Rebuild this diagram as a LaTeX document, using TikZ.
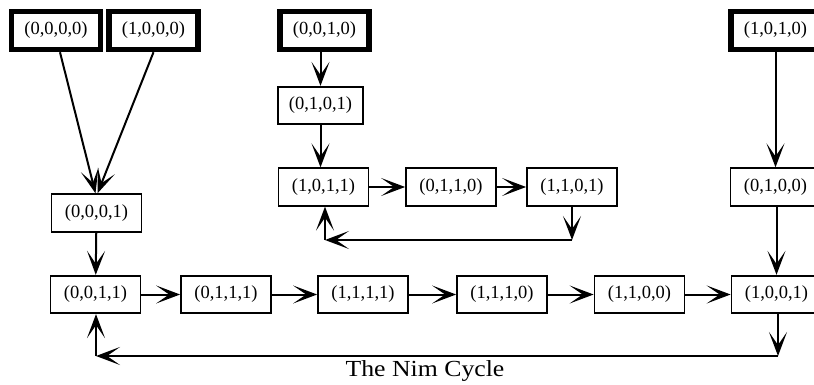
\documentclass[tikz,border=0pt]{standalone}
\usepackage{fontspec}
\setmainfont{Liberation Serif}
\newfontfamily\capfont[FakeStretch=1.12]{Liberation Serif}
\usetikzlibrary{arrows.meta}
\begin{document}
\begin{tikzpicture}[x=1pt,y=-1pt,
  st/.style={draw,line width=1.8pt,minimum width=90pt,minimum height=37.5pt,inner sep=0pt,
    font=\fontsize{18.5}{21}\selectfont},
  init/.style={st,line width=5.5pt,minimum width=89pt,minimum height=38pt},
  arr/.style={line width=2pt,-{Stealth[length=24pt,width=18pt,inset=13pt]}}]
\useasboundingbox (0,0) rectangle (814,385);
\clip (0,0) rectangle (814,385);
% initial states
\node[init] (A) at (56,30.5) {(0,0,0,0)};
\node[init] (B) at (153.5,30.5) {(1,0,0,0)};
\node[init] (C) at (324.5,30.5) {(0,0,1,0)};
\node[init] (D) at (775.5,30.5) {(1,0,1,0)};
% middle
\node[st,minimum width=85pt] (E) at (320.5,105.5) {(0,1,0,1)};
\node[st] (F) at (323.5,187) {(1,0,1,1)};
\node[st] (G) at (451,187) {(0,1,1,0)};
\node[st] (H) at (572,187) {(1,1,0,1)};
\node[st] (I) at (775.5,187) {(0,1,0,0)};
\node[st] (J) at (96.5,213) {(0,0,0,1)};
% bottom row
\node[st] (K) at (95.5,294.5) {(0,0,1,1)};
\node[st] (L) at (226,294.5) {(0,1,1,1)};
\node[st] (M) at (363,294.5) {(1,1,1,1)};
\node[st] (N) at (502,294.5) {(1,1,1,0)};
\node[st] (O) at (639.5,294.5) {(1,1,0,0)};
\node[st] (P) at (776.5,294.5) {(1,0,0,1)};
\node[font=\capfont\fontsize{23}{26}\selectfont] (cap) at (425,371) {The Nim Cycle};
% arrows
\draw[arr] ([xshift=4pt]A.south) -- ([xshift=-1pt]J.north);
\draw[arr] (B.south) -- ([xshift=1pt]J.north);
\draw[arr] (J) -- (K);
\draw[arr] (C.south -| E.north) -- (E.north);
\draw[arr] (E.south) -- (E.south |- F.north);
\draw[arr] (F) -- (G);
\draw[arr] (G) -- (H);
\draw[arr] (D) -- (I);
\draw[arr] (I.south -| P.north) -- (P.north);
\draw[arr] (K) -- (L);
\draw[arr] (L) -- (M);
\draw[arr] (M) -- (N);
\draw[arr] (N) -- (O);
\draw[arr] (O) -- (P);
% middle return loop
\coordinate (m1) at (572,240);
\coordinate (m2) at (325,240);
\draw[arr] (H.south) -- (m1);
\draw[arr] (m1) -- (m2);
\draw[arr] (m2) -- (m2 |- F.south);
% bottom return loop
\coordinate (b1) at (778,356);
\coordinate (b2) at (96,356);
\draw[arr] (b1 |- P.south) -- (b1);
\draw[arr] (b1) -- (b2);
\draw[arr] (b2) -- (b2 |- K.south);
\end{tikzpicture}
\end{document}
